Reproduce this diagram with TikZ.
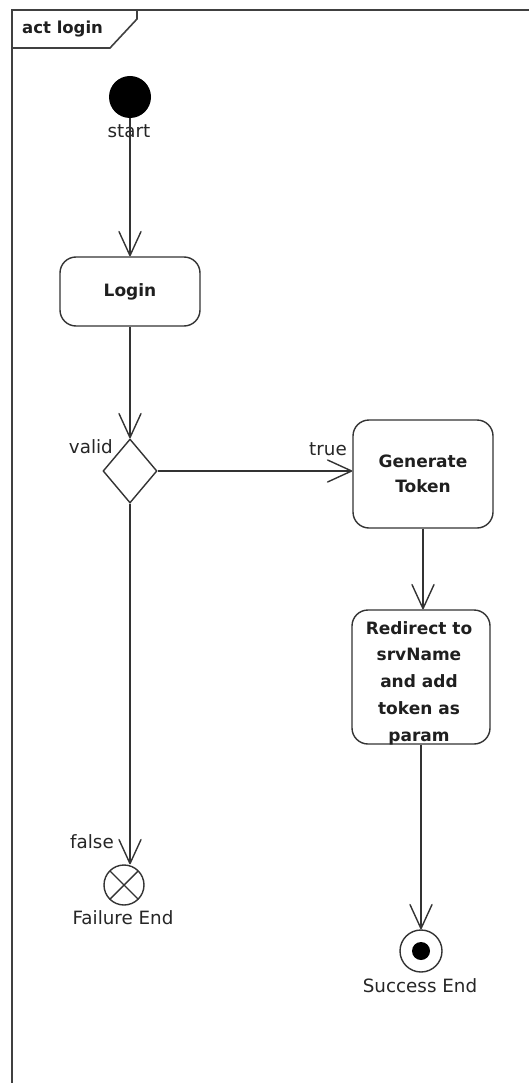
\documentclass[tikz,border=0pt]{standalone}
\usepackage{fontspec}
\setmainfont{DejaVu Sans}
\usetikzlibrary{shapes.geometric,arrows.meta}

\begin{document}
\begin{tikzpicture}[x=1pt,y=-1pt,
  ink/.style={draw=black!80, line width=1.4pt},
  action/.style={ink, rounded corners=16pt, align=center,
    font=\fontsize{17}{25.5}\selectfont\bfseries, text=black!88, inner sep=0pt},
  acttext/.style={align=center, font=\fontsize{17}{26.7}\selectfont\bfseries, text=black!88, inner sep=0pt},
  flow/.style={ink, -{Straight Barb[length=24pt,width=22pt,round]}},
  lbl/.style={font=\fontsize{18.3}{20}\selectfont, text=black!85, inner sep=0pt},
]
\useasboundingbox (0,0) rectangle (529,1083);
\fill[white] (0,0) rectangle (529,1083);

% diagram frame with its name tag
\draw[line width=2pt, draw=black!75] (12,1083) -- (12,10) -- (529,10);
\draw[line width=1.6pt, draw=black!75] (12,48) -- (110,48) -- (137,19) -- (137,10);
\node[anchor=west, font=\fontsize{16.5}{20}\selectfont\bfseries, text=black!88, inner sep=0pt]
  (frametag) at (22,29) {act login};

% initial node
\node[circle, fill=black, minimum size=42pt, inner sep=0pt] (start) at (130,97) {};
\node[lbl] (startlbl) at (129,131) {start};

% actions
\node[action, minimum width=140pt, minimum height=69pt] (login) at (130,291.5) {Login};
\node[action, minimum width=140pt, minimum height=108pt] (gen) at (423,474) {Generate\\Token};
\node[action, minimum width=138pt, minimum height=134pt] (red) at (421,677) {};
\node[acttext] (redtext) at (419,683)
  {Redirect to\\srvName\\and add\\token as\\param};

% decision
\node[diamond, ink, minimum width=54pt, minimum height=64pt, inner sep=0pt] (dec) at (130,471) {};
\node[lbl, anchor=east] (validlbl) at (113,447) {valid};
\node[lbl] (truelbl) at (328,449) {true};
\node[lbl] (falselbl) at (92,842) {false};

% final nodes
\node[circle, ink, minimum size=40pt, inner sep=0pt,
  path picture={\draw[ink] (path picture bounding box.north west) -- (path picture bounding box.south east)
    (path picture bounding box.north east) -- (path picture bounding box.south west);}]
  (fail) at (124,885) {};
\node[lbl] (faillbl) at (123,918) {Failure End};

\node[circle, ink, minimum size=42pt, inner sep=0pt] (succ) at (421,951) {};
\node[circle, fill=black, minimum size=18pt, inner sep=0pt] (succdot) at (succ.center) {};
\node[lbl] (succlbl) at (420,986) {Success End};

% control flows
\draw[flow] (start) -- (login);
\draw[flow] (login) -- (dec);
\draw[flow] (dec.east) -- (dec.east -| gen.west);
\draw[flow] (gen.south) -- (gen.south |- red.north);
\draw[flow] (red) -- (succ);
\draw[flow] (dec.south) -- (dec.south |- fail.north);
\end{tikzpicture}
\end{document}
